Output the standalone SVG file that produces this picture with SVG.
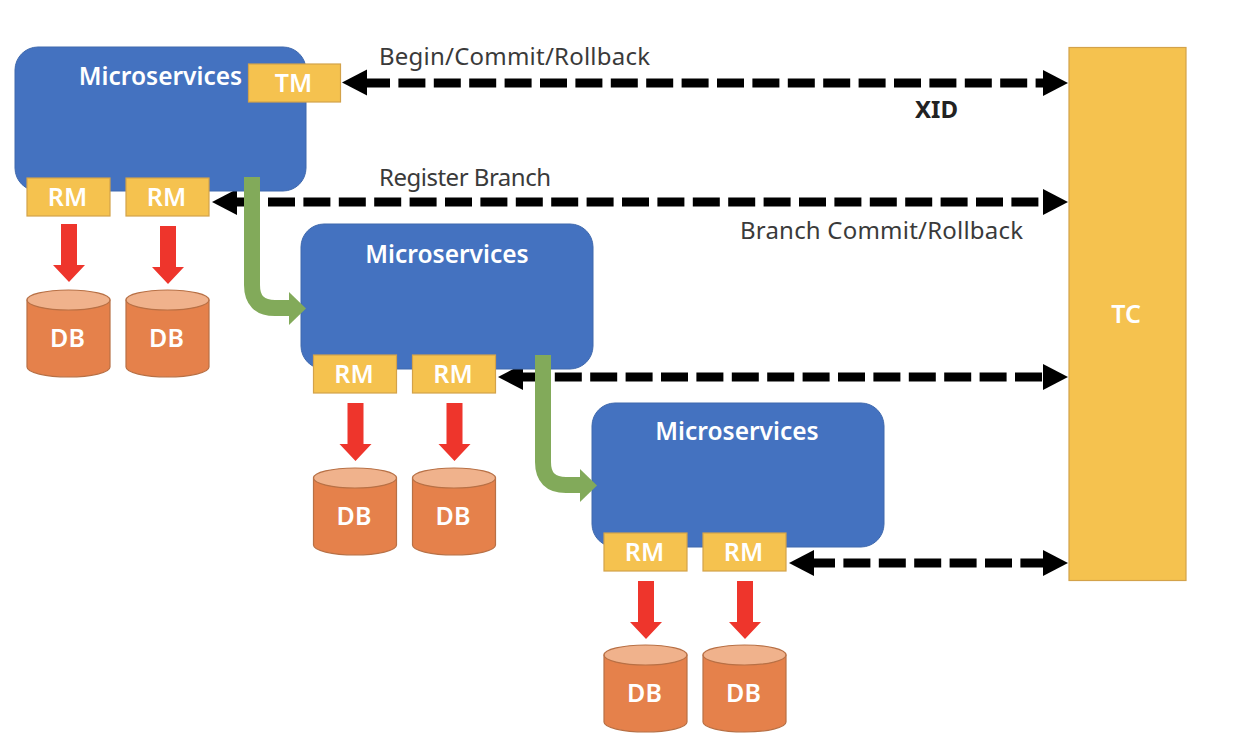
<svg xmlns="http://www.w3.org/2000/svg" width="1234" height="754" viewBox="0 0 1234 754">
<style>
.ms{fill:#4472c0;stroke:#3f69ad;stroke-width:1}
.y{fill:#f5c24f;stroke:#d3a24a;stroke-width:1.2}
.cy{fill:#e5814b;stroke:#b87045;stroke-width:1.2}
.ct{fill:#f0b28c;stroke:#b87045;stroke-width:1.2}
text{font-family:"Noto Sans","Liberation Sans",sans-serif}
.w{fill:#fff;font-weight:600;text-anchor:middle;font-size:25px}
.m{font-size:24.5px}
.l{fill:#3a3a3a;font-size:24px}
.d{fill:none;stroke:#000;stroke-width:9;stroke-dasharray:27 8.4}
.g{fill:none;stroke:#82aa5a;stroke-width:16}
.gh{fill:#82aa5a}
.r{fill:#ee352c}
</style>
<defs>
<g id="cyl">
<path class="cy" d="M0 10V77A41.500 10 0 0 0 83 77V10Z"/>
<ellipse class="ct" cx="41.500" cy="10" rx="41.500" ry="10"/>
<text class="w" x="40.500" y="57">DB</text>
</g>
<g id="rm">
<rect class="y" x="0" y="0" width="83" height="38"/>
<text class="w" x="40.500" y="28">RM</text>
</g>
<path id="red" class="r" d="M-8 0H8V41H16L0 58L-16 41H-8Z"/>
</defs>
<g id="connectors">
<path d="M342 82.500L367 69.500V95.500Z"/><path class="d" d="M363 83H1045"/><path d="M1068 83L1043 70V96Z"/>
<path d="M212 202L237 189V215Z"/><path class="d" d="M232.600 202H1048"/><path d="M1068 202L1043 189V215Z"/>
<path d="M498 377L523 364V390Z"/><path class="d" d="M519.400 377H1048"/><path d="M1068 377L1043 364V390Z"/>
<path d="M789 563L814 550V576Z"/><path class="d" d="M808 563H1048"/><path d="M1068 563L1043 550V576Z"/>
</g>
<g id="ms1"><rect class="ms" x="15" y="47" width="291" height="144" rx="23"/><text class="w m" x="160.500" y="85">Microservices</text></g>
<g id="ms2"><rect class="ms" x="301" y="224" width="292" height="145" rx="23"/><text class="w m" x="447" y="263">Microservices</text></g>
<g id="ms3"><rect class="ms" x="592" y="403" width="292" height="144" rx="23"/><text class="w m" x="737" y="440">Microservices</text></g>
<g id="tm"><rect class="y" x="248.500" y="64" width="92" height="38"/><text class="w" x="293.500" y="92">TM</text></g>
<g id="tc"><rect class="y" x="1069" y="47.500" width="117" height="533"/><text class="w" x="1126" y="323">TC</text></g>
<g id="rm1"><use href="#rm" x="27" y="178"/></g>
<g id="rm2"><use href="#rm" x="126" y="178"/></g>
<g id="rm3"><use href="#rm" x="313.500" y="355"/></g>
<g id="rm4"><use href="#rm" x="412.500" y="355"/></g>
<g id="rm5"><use href="#rm" x="604" y="533"/></g>
<g id="rm6"><use href="#rm" x="703" y="533"/></g>
<g id="db1"><use href="#cyl" x="27" y="290"/></g>
<g id="db2"><use href="#cyl" x="126" y="290"/></g>
<g id="db3"><use href="#cyl" x="313.500" y="468"/></g>
<g id="db4"><use href="#cyl" x="412.500" y="468"/></g>
<g id="db5"><use href="#cyl" x="604" y="645"/></g>
<g id="db6"><use href="#cyl" x="703" y="645"/></g>
<g id="red-arrows">
<use href="#red" x="69" y="224"/><use href="#red" x="168" y="226"/>
<use href="#red" x="355.500" y="403"/><use href="#red" x="454.500" y="403"/>
<use href="#red" x="646" y="581"/><use href="#red" x="745" y="581"/>
</g>
<g id="green-arrows">
<path class="g" d="M252 177V285Q252 308 275 308H290"/><path class="gh" d="M289 292L306 308.500L289 325Z"/>
<path class="g" d="M543 355V462Q543 485 566 485H581"/><path class="gh" d="M580 469L597 485.500L580 502Z"/>
</g>
<g id="labels">
<text class="l" x="379" y="65" textLength="271" lengthAdjust="spacing">Begin/Commit/Rollback</text>
<text x="915" y="118" font-size="24" font-weight="700" fill="#222">XID</text>
<text class="l" x="379" y="186" textLength="172" lengthAdjust="spacing">Register Branch</text>
<text class="l" x="740" y="239" textLength="283" lengthAdjust="spacing">Branch Commit/Rollback</text>
</g>
</svg>
